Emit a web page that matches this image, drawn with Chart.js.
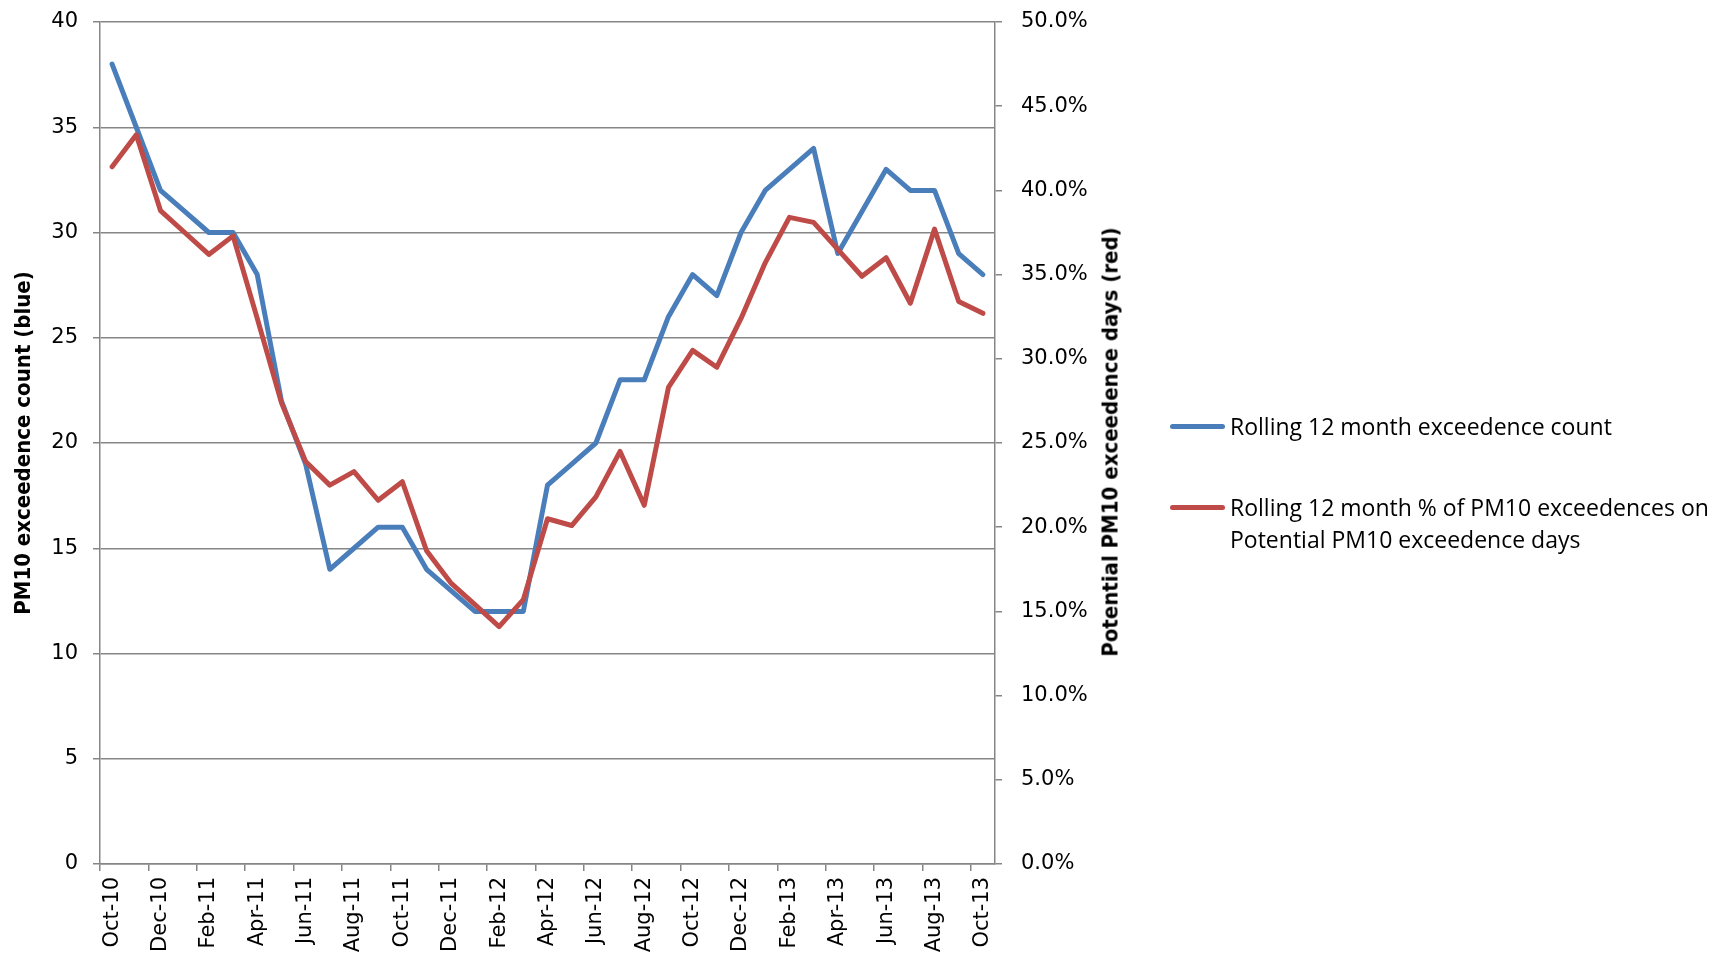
<!DOCTYPE html>
<html>
<head>
<meta charset="utf-8">
<script src="https://cdn.jsdelivr.net/npm/chart.js@4.4.0/dist/chart.umd.min.js"></script>
<style>
  html, body { margin: 0; padding: 0; background: #fff; overflow: hidden; }
  #wrap { position: relative; width: 1719px; height: 956px; }
  #legend { position: absolute; left: 1170px; top: 0; width: 549px; font-family: "Open Sans", sans-serif; font-size: 23px; line-height: 32px; color: #000; }
  .item { position: absolute; left: 0; display: flex; align-items: flex-start; }
  .swatch { width: 55px; height: 5px; border-radius: 3px; margin-top: 14px; flex: none; }
  .label { margin-left: 5px; width: 489px; }
  #y1title { position: absolute; left: 1110px; top: 442px; transform: translate(-50%, -50%) rotate(-90deg);
    white-space: nowrap; font-family: "Liberation Sans Narrow", "DejaVu Sans Condensed", "Open Sans", sans-serif;
    font-weight: bold; font-size: 22px; color: #000; }
</style>
</head>
<body>
<div id="wrap">
  <canvas id="chart" width="1719" height="956"></canvas>
  <div id="legend"></div>
  <div id="y1title"></div>
</div>
<script>
const months = ['Oct-10','Nov-10','Dec-10','Jan-11','Feb-11','Mar-11','Apr-11','May-11','Jun-11','Jul-11',
  'Aug-11','Sep-11','Oct-11','Nov-11','Dec-11','Jan-12','Feb-12','Mar-12','Apr-12','May-12','Jun-12',
  'Jul-12','Aug-12','Sep-12','Oct-12','Nov-12','Dec-12','Jan-13','Feb-13','Mar-13','Apr-13','May-13',
  'Jun-13','Jul-13','Aug-13','Sep-13','Oct-13'];

// rolling 12 month exceedence count (left axis)
const exceedCount = [38, 35, 32, 31, 30, 30, 28, 22, 19, 14, 15, 16, 16, 14, 13, 12, 12, 12, 18, 19,
  20, 23, 23, 26, 28, 27, 30, 32, 33, 34, 29, 31, 33, 32, 32, 29, 28];

// rolling 12 month % of exceedences on potential exceedence days (right axis, percent)
const exceedPct = [41.4, 43.3, 38.8, 37.5, 36.2, 37.3, 32.4, 27.4, 23.9, 22.5, 23.3, 21.6, 22.7, 18.6,
  16.7, 15.4, 14.1, 15.7, 20.5, 20.1, 21.8, 24.5, 21.3, 28.3, 30.5, 29.5, 32.4, 35.7, 38.4, 38.1,
  36.5, 34.9, 36.0, 33.3, 37.7, 33.4, 32.7];

const seriesNames = ['Rolling 12 month exceedence count',
  'Rolling 12 month % of PM10 exceedences on Potential PM10 exceedence days'];
const leftTitle = 'PM10 exceedence count (blue)';
const rightTitle = 'Potential PM10 exceedence days (red)';

const BLUE = '#4a7ebb';
const RED = '#be4b48';
const GRID = '#868686';
const tickFont = { family: '"DejaVu Sans", sans-serif', size: 21 };

// fixed box sizes so the plot area lands where the original one is
function fixWidth(w) {
  return (scale) => {
    scale.width = w;
    scale.paddingTop = 0;
    scale.paddingBottom = 0;
  };
}

const chart = new Chart(document.getElementById('chart'), {
  type: 'line',
  data: {
    labels: months,
    datasets: [
      {
        label: seriesNames[0],
        data: exceedCount,
        yAxisID: 'y',
        borderColor: BLUE,
        backgroundColor: BLUE,
        borderWidth: 5,
        borderJoinStyle: 'round',
        borderCapStyle: 'round',
        pointRadius: 0,
        tension: 0,
        order: 2,
      },
      {
        label: seriesNames[1],
        data: exceedPct,
        yAxisID: 'y1',
        borderColor: RED,
        backgroundColor: RED,
        borderWidth: 5,
        borderJoinStyle: 'round',
        borderCapStyle: 'round',
        pointRadius: 0,
        tension: 0,
        order: 1,
      },
    ],
  },
  options: {
    responsive: false,
    animation: false,
    events: [],
    layout: { padding: { top: 22, left: 0, right: 0, bottom: 0 } },
    plugins: {
      legend: { display: false },
      tooltip: { enabled: false },
    },
    scales: {
      x: {
        type: 'category',
        offset: true,
        afterFit: (scale) => { scale.height = 92; },
        grid: {
          offset: true,
          drawOnChartArea: false,
          drawTicks: true,
          tickLength: 7,
          lineWidth: 1.5,
          color: (ctx) => (ctx.index % 2 === 0 ? GRID : 'rgba(0,0,0,0)'),
        },
        border: { display: true, color: GRID, width: 1.5 },
        ticks: {
          autoSkip: false,
          minRotation: 90,
          maxRotation: 90,
          padding: 6,
          color: '#000',
          font: tickFont,
          callback: function (value, index) {
            return index % 2 === 0 ? this.getLabelForValue(value) : '';
          },
        },
      },
      y: {
        position: 'left',
        min: 0,
        max: 40,
        afterFit: fixWidth(100),
        grid: { color: GRID, lineWidth: 1.5, tickLength: 7 },
        border: { display: true, color: GRID, width: 1.5 },
        ticks: { stepSize: 5, padding: 15, color: '#000', font: tickFont },
        title: {
          display: true,
          text: leftTitle,
          color: '#000',
          padding: { top: 11, bottom: 0 },
          font: { family: '"Liberation Sans Narrow", "DejaVu Sans Condensed", "Open Sans", sans-serif', size: 22, weight: 'bold' },
        },
      },
      y1: {
        position: 'right',
        min: 0,
        max: 50,
        afterFit: fixWidth(724),
        grid: { drawOnChartArea: false, color: GRID, lineWidth: 1.5, tickLength: 7 },
        border: { display: true, color: GRID, width: 1.5 },
        ticks: {
          stepSize: 5,
          padding: 19,
          color: '#000',
          font: tickFont,
          callback: (v) => v.toFixed(1) + '%',
        },
      },
    },
  },
});

// legend and right-hand title as html text
const legend = document.getElementById('legend');
const legendTops = [410, 491];
chart.data.datasets.forEach((ds, i) => {
  const item = document.createElement('div');
  item.className = 'item';
  item.style.top = legendTops[i] + 'px';
  const sw = document.createElement('div');
  sw.className = 'swatch';
  sw.style.background = ds.borderColor;
  const lab = document.createElement('div');
  lab.className = 'label';
  lab.textContent = ds.label;
  item.appendChild(sw);
  item.appendChild(lab);
  legend.appendChild(item);
});
document.getElementById('y1title').textContent = rightTitle;
</script>
</body>
</html>
